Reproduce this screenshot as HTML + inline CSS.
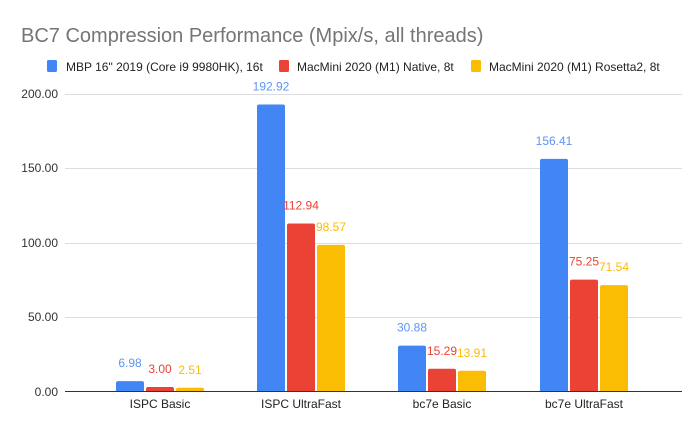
<!DOCTYPE html>
<html><head><style>body{margin:0;background:#fff}svg{display:block}text{font-family:"Liberation Sans",Arial,sans-serif}</style></head><body>
<svg width="700" height="433" xmlns="http://www.w3.org/2000/svg">
<rect width="700" height="433" fill="#fff"/>
<text x="21" y="42" font-size="20" fill="#757575">BC7 Compression Performance (Mpix/s, all threads)</text>
<g font-size="12" fill="#222">
<rect x="47" y="60" width="10" height="12" rx="1.5" fill="#4285f4"/><text x="66" y="71">MBP 16" 2019 (Core i9 9980HK), 16t</text>
<rect x="279" y="60" width="10" height="12" rx="1.5" fill="#ea4335"/><text x="297" y="71">MacMini 2020 (M1) Native, 8t</text>
<rect x="471" y="60" width="10" height="12" rx="1.5" fill="#fbbc04"/><text x="489" y="71">MacMini 2020 (M1) Rosetta2, 8t</text>
</g>
<g stroke="#ddd" stroke-width="1">
<line x1="65" x2="682" y1="94.5" y2="94.5"/><line x1="65" x2="682" y1="168.5" y2="168.5"/><line x1="65" x2="682" y1="243.5" y2="243.5"/><line x1="65" x2="682" y1="317.5" y2="317.5"/>
</g>
<g font-size="12" fill="#333" text-anchor="end">
<text x="58" y="98">200.00</text><text x="58" y="172">150.00</text><text x="58" y="247">100.00</text><text x="58" y="321">50.00</text><text x="58" y="396">0.00</text>
</g>
<g id="bars"></g>
<line x1="65" x2="682" y1="391.5" y2="391.5" stroke="#333" stroke-width="1"/>
<g font-size="12" fill="#222" text-anchor="middle">
<text x="160" y="408">ISPC Basic</text><text x="301" y="408">ISPC UltraFast</text><text x="442" y="408">bc7e Basic</text><text x="584" y="408">bc7e UltraFast</text>
</g>
<script>
var g=document.getElementById('bars');
var vals=[[6.98,192.92,30.88,156.41],[3.00,112.94,15.29,75.25],[2.51,98.57,13.91,71.54]];
var cols=['#4285f4','#ea4335','#fbbc04'],tcols=['#5b95f5','#ea4335','#fbbc04'];
var gx=[116,257,398,540];
var ns='http://www.w3.org/2000/svg';
for(var s=0;s<3;s++)for(var i=0;i<4;i++){
 var v=vals[s][i],h=v*1.4875,x=gx[i]+s*30,y=391.5-h;
 var p=document.createElementNS(ns,'path');var r=2;
 p.setAttribute('d','M'+x+' 391.5V'+(y+r)+'Q'+x+' '+y+' '+(x+r)+' '+y+'H'+(x+28-r)+'Q'+(x+28)+' '+y+' '+(x+28)+' '+(y+r)+'V391.5Z');
 p.setAttribute('fill',cols[s]);g.appendChild(p);
 var t=document.createElementNS(ns,'text');t.setAttribute('x',x+14);t.setAttribute('y',y-14);
 t.setAttribute('font-size','12');t.setAttribute('fill',tcols[s]);t.setAttribute('text-anchor','middle');
 t.textContent=v.toFixed(2);g.appendChild(t);
}
</script>
</svg>
</body></html>
